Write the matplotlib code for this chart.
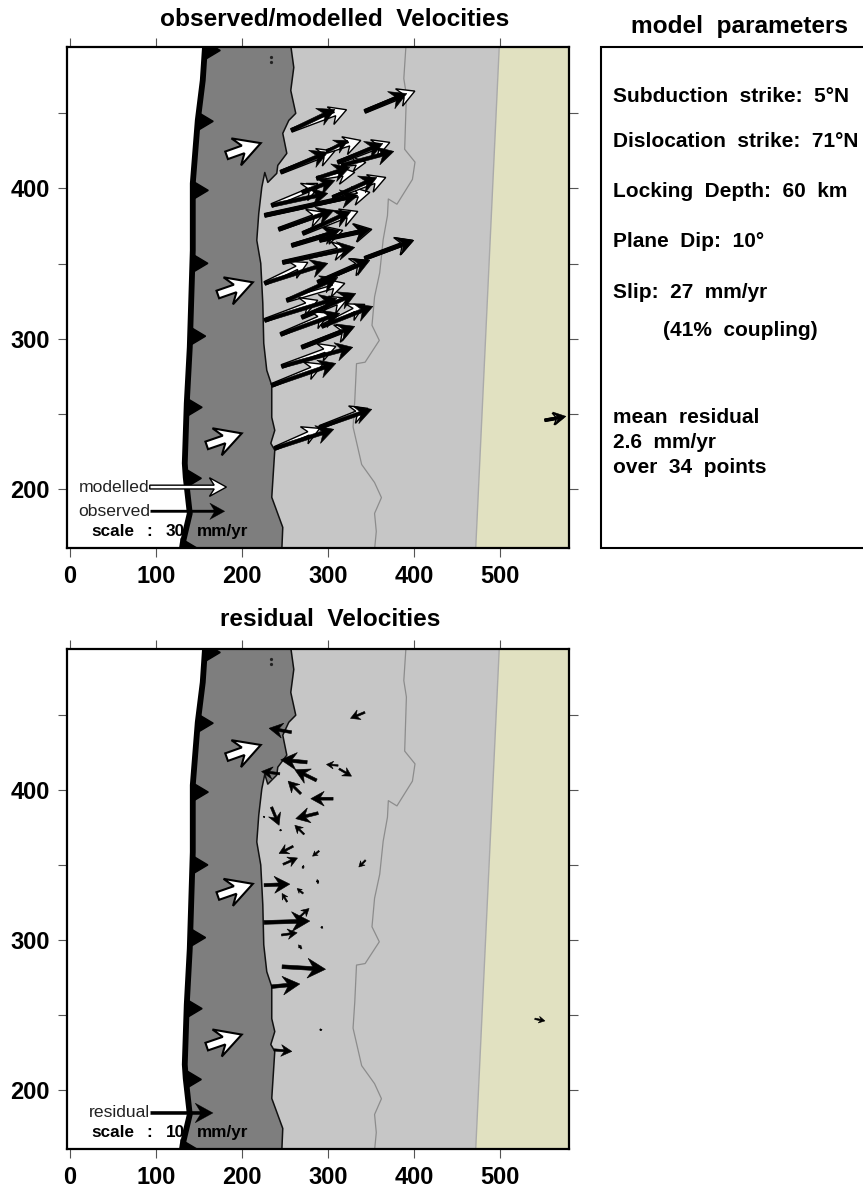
#Velocidades observadas, modeladas y residuales
import numpy as np
import matplotlib
matplotlib.use('Agg')
import matplotlib.pyplot as plt
from matplotlib.patches import Polygon, Rectangle

plt.rcParams['font.family'] = ['Liberation Sans', 'DejaVu Sans']

#Costa, fosa y borde gris (km)
coast_x = [256.6, 260.1, 256.6, 262.4, 254.3, 247.3, 252, 241.5, 240.3, 229.9, 226.4, 222.9, 219.4, 217.1, 221.7, 224.1, 225.2, 228.7, 234.5, 234.5, 238, 233.4, 238, 234.5, 247.3, 246.2]
coast_y = [495, 480.4, 465.1, 449.9, 445.2, 436.6, 423.3, 415.3, 410, 404, 410.6, 400.7, 383.4, 365.5, 350.2, 323.6, 297, 279.1, 269.1, 247.8, 239.2, 230.6, 226, 194.7, 174.7, 160]
trench_x = [157, 154.3, 148.5, 142.7, 142.7, 139.2, 135.7, 133.4, 134.5, 139.2, 131, 129.9]
trench_y = [495, 471.8, 445.2, 403.3, 358.8, 294.4, 257.1, 217.3, 208, 184, 164.1, 160]
tooth_y = [491.7, 444.6, 398.7, 350.2, 301.8, 254.5, 207.3, 160.8]
border_x = [390.5, 388, 391, 389, 401, 398, 380, 370, 369, 364, 360, 354, 351, 359.5, 343, 333, 331, 329, 339, 354, 362, 354, 356, 354]
border_y = [495, 473, 462, 426, 417.5, 406, 389.5, 393, 382, 366, 344, 328, 309, 299, 284.5, 283.5, 259, 241.5, 216.5, 204.5, 194.5, 184, 172, 160]
limit_x = [471.5, 499]
limit_y = [160, 495]

#Vectores observados y modelados
obs_x0 = [342.7, 257.4, 245, 298.5, 311.3, 315.9, 286.9, 269.4, 234.5, 226.4, 305.5, 242.7, 270.6, 257.8, 290.3, 247.3, 226.4, 342.7, 252, 288, 226.4, 269.4, 245, 292.7, 269.4, 246.2, 234.5, 238, 290.3, 552]
obs_y0 = [451.2, 438.6, 410.8, 424.6, 417.3, 415.3, 406.7, 397.4, 388.7, 382.1, 394, 372.8, 370.1, 362.1, 365.5, 350.8, 336.9, 353.5, 325.6, 337.6, 312.3, 314.3, 303, 308.3, 294.4, 281.7, 269.1, 227.2, 241.2, 245.9]
obs_x1 = [391.5, 308, 299.7, 322.9, 363.6, 376.4, 325.2, 307.8, 299.7, 334.5, 356.6, 306.6, 326.4, 313.6, 349.6, 331, 299.7, 399.7, 311.3, 348.5, 310.1, 332.2, 313.6, 352, 331, 328.7, 309, 306.6, 350.8, 576.4]
obs_y1 = [463.1, 452.5, 424.1, 431.9, 429.9, 424.6, 414, 405.3, 396.7, 395.4, 407.3, 385.4, 384.7, 372.1, 372.8, 360.8, 350.2, 365.5, 340.9, 352.2, 326.9, 330.2, 317, 321.6, 308.3, 294.4, 283.7, 239.9, 253.2, 248.5]
mod_x1 = [400.8, 321.4, 307.8, 338, 371.7, 343.8, 331, 288, 290.3, 348.5, 367, 296.2, 334.5, 317, 350.8, 325.2, 276.4, 398.5, 319.4, 346.2, 288, 322.9, 302, 342.7, 328.7, 309, 293.9, 290.3, 346.2, 574]
mod_y1 = [464.7, 452.3, 424.8, 431.9, 430.6, 417.3, 410.7, 403.3, 402, 397.4, 407.3, 384.1, 384.7, 372.1, 372.8, 360.8, 350.8, 365.5, 336.9, 352.2, 325.6, 326.9, 317, 322.9, 307.6, 295, 283.1, 240.5, 253.8, 248]

#Vectores residuales
res_x0 = [342.7, 257.4, 275.6, 243.8, 311.6, 312.8, 286.5, 268.3, 305.8, 288.4, 234.2, 272.1, 259.3, 247.7, 289.5, 343.5, 225.6, 270.9, 252.3, 267, 225.6, 245.8, 269, 246.5, 234.2, 237.2, 288.4, 540.3, 244, 225, 270.5, 292, 290.5]
res_y0 = [451.8, 438.6, 418.6, 410.9, 416.4, 414.2, 406.5, 397.6, 394.3, 384.7, 388.7, 370.6, 362.6, 350.6, 359.5, 353.3, 336.7, 331.2, 325.6, 315.6, 311.9, 303.5, 294.4, 282.4, 269.1, 227, 338, 247.7, 373.5, 382, 348, 309, 240.3]
res_x1 = [326, 231.4, 245, 222.6, 298.1, 327.2, 261.3, 253.5, 279.9, 262.4, 243, 261.3, 243, 264.4, 281.9, 335.7, 255.5, 264, 246.5, 277.9, 278.7, 264, 265.6, 297, 267.1, 257.8, 287.2, 552, 246, 226.5, 271.5, 294, 293]
res_y1 = [447.8, 441.2, 420.2, 412.4, 417.1, 409.3, 413.6, 406, 394.3, 381, 376.6, 376.6, 357.8, 354.8, 356, 348.8, 337.4, 334.5, 331.2, 321.2, 312.8, 305, 297, 280.7, 270.9, 226, 340.5, 246.3, 373, 382.5, 350, 308, 240.6]

#Flechas blancas de convergencia
plate_x0 = [182, 171.8, 158.9]
plate_y0 = [422, 329.5, 229.2]
plate_x1 = [221.7, 212.5, 199.6]
plate_y1 = [430.1, 337.6, 237.2]

x_ticks = [0, 100, 200, 300, 400, 500]
y_ticks = [200, 250, 300, 350, 400, 450]
y_labels = ['200', '', '300', '', '400', '']

W, H = 863, 1189
fig = plt.figure(figsize=(W / 100, H / 100), dpi=100)

def eje(top, bottom):
    ax = fig.add_axes([67 / W, 1 - bottom / H, (569 - 67) / W, (bottom - top) / H])
    ax.set_xlim(-3.5, 580)
    ax.set_ylim(161, 494)
    ax.set_xticks(x_ticks)
    ax.set_yticks(y_ticks)
    ax.set_yticklabels(y_labels)
    ax.tick_params(top=True, right=True, length=6.5, width=0.8, color='#555555', pad=6)
    for lab in ax.get_xticklabels() + ax.get_yticklabels():
        lab.set_fontsize(17)
        lab.set_fontweight('bold')
    for s in ax.spines.values():
        s.set_linewidth(1.6)
        s.set_zorder(20)
    return ax

def vector(ax, x0, y0, x1, y1, ancho, largo, fc, ec='black', lw=0.0, z=5):
    #La flecha se arma en pixeles para que la punta no se deforme
    p0 = ax.transData.transform((x0, y0))
    p1 = ax.transData.transform((x1, y1))
    d = p1 - p0
    n = np.hypot(d[0], d[1])
    u = d / n
    v = np.array([-u[1], u[0]])
    f = min(1.0, n / 30.0)
    L = largo * f
    a = ancho * max(f, 0.4) / 2
    h = L * 0.55
    pts = [p0 + v * a, p1 - u * L * 0.72 + v * a, p1 - u * L + v * h, p1,
           p1 - u * L - v * h, p1 - u * L * 0.72 - v * a, p0 - v * a]
    pts = ax.transData.inverted().transform(np.array(pts))
    ax.add_patch(Polygon(pts, closed=True, facecolor=fc, edgecolor=ec, linewidth=lw, zorder=z, clip_on=True))

def mapa(ax):
    #Fondos
    ax.fill(limit_x + [600, 600], limit_y + [495, 160], color='#e1e1c1', lw=0, zorder=1)
    ax.fill(coast_x + limit_x, coast_y + limit_y, color='#c6c6c6', lw=0, zorder=1)
    ax.fill(trench_x + coast_x[::-1], trench_y + coast_y[::-1], color='#7e7e7e', lw=0, zorder=2)
    ax.plot(limit_x, limit_y, color='#aaaaaa', lw=1, zorder=2)
    ax.plot(border_x, border_y, color='#8c8c8c', lw=0.9, zorder=2)
    ax.plot(coast_x, coast_y, color='#111111', lw=1.1, zorder=3)
    ax.plot(trench_x, trench_y, color='black', lw=4.2, zorder=3)
    ax.plot([234.2, 234.2], [487.3, 484], ls='none', marker='o', ms=1.3, color='#222222', zorder=3)
    #Triangulos de la fosa
    for yt in tooth_y:
        xt = np.interp(yt, trench_y[::-1], trench_x[::-1])
        ax.add_patch(Polygon([[xt - 1, yt + 6.5], [xt + 18, yt], [xt - 1, yt - 6.5]], closed=True, color='black', zorder=3))
    for i in range(len(plate_x0)):
        vector(ax, plate_x0[i], plate_y0[i], plate_x1[i], plate_y1[i], 8, 26, 'white', lw=1.5, z=6)

def escala(ax, y, valor):
    ax.text(25, y, 'scale', ha='left', va='center', fontsize=12.3, fontweight='bold', zorder=9)
    ax.text(92, y, ':', ha='center', va='center', fontsize=12.3, fontweight='bold', zorder=9)
    ax.text(111, y, valor, ha='left', va='center', fontsize=12.3, fontweight='bold', zorder=9)
    ax.text(147, y, 'mm/yr', ha='left', va='center', fontsize=12.3, fontweight='bold', zorder=9)

#Panel superior
ax1 = eje(47, 548)
fig.canvas.draw()
mapa(ax1)
for i in range(len(obs_x0)):
    vector(ax1, obs_x0[i], obs_y0[i], mod_x1[i], mod_y1[i], 3.6, 17, 'white', lw=1.0, z=7)
for i in range(len(obs_x0)):
    vector(ax1, obs_x0[i], obs_y0[i], obs_x1[i], obs_y1[i], 3.8, 17, 'black', lw=0.4, z=8)
vector(ax1, 92.7, 201.5, 181.8, 201.5, 3.8, 17, 'white', lw=1.0, z=8)
vector(ax1, 93.8, 185.4, 179.9, 185.4, 2.6, 15, 'black', lw=0.2, z=8)
ax1.text(92, 201.5, 'modelled', ha='right', va='center', fontsize=12.6, color='#222222', zorder=9)
ax1.text(93, 185.4, 'observed', ha='right', va='center', fontsize=12.6, color='#222222', zorder=9)
escala(ax1, 172, '30')

#Panel inferior
ax2 = eje(649, 1149)
fig.canvas.draw()
mapa(ax2)
for i in range(len(res_x0)):
    vector(ax2, res_x0[i], res_y0[i], res_x1[i], res_y1[i], 3.8, 18, 'black', lw=0.4, z=8)
vector(ax2, 93.8, 185, 166.3, 185, 3.4, 18, 'black', lw=0.2, z=8)
ax2.text(93, 185, 'residual', ha='right', va='center', fontsize=12.6, color='#222222', zorder=9)
escala(ax2, 172, '10')

#Titulos
fig.text(335 / W, 1 - 20 / H, 'observed/modelled  Velocities', ha='center', va='center', fontsize=17.6, fontweight='bold')
fig.text(330 / W, 1 - 619 / H, 'residual  Velocities', ha='center', va='center', fontsize=17.6, fontweight='bold')
fig.text(739.5 / W, 1 - 26 / H, 'model  parameters', ha='center', va='center', fontsize=17.6, fontweight='bold')

#Cuadro de parametros (se sale por la derecha, igual que el original)
fig.add_artist(Rectangle((600.5 / W, 1 - 548 / H), 300 / W, 501 / H, transform=fig.transFigure, facecolor='white', edgecolor='black', linewidth=1.5))
param_text = ['Subduction  strike:  5°N', 'Dislocation  strike:  71°N', 'Locking  Depth:  60  km', 'Plane  Dip:  10°', 'Slip:  27  mm/yr', '(41%  coupling)', 'mean  residual', '2.6  mm/yr', 'over  34  points']
param_x = [613, 613, 613, 613, 613, 663, 613, 613, 613]
param_y = [96.7, 141.7, 191.7, 241.7, 292.7, 330.7, 417.7, 442.7, 467.3]
for t, px, py in zip(param_text, param_x, param_y):
    fig.text(px / W, 1 - py / H, t, ha='left', va='center', fontsize=15, fontweight='bold')

plt.savefig('out.png', dpi=100)
plt.close()
